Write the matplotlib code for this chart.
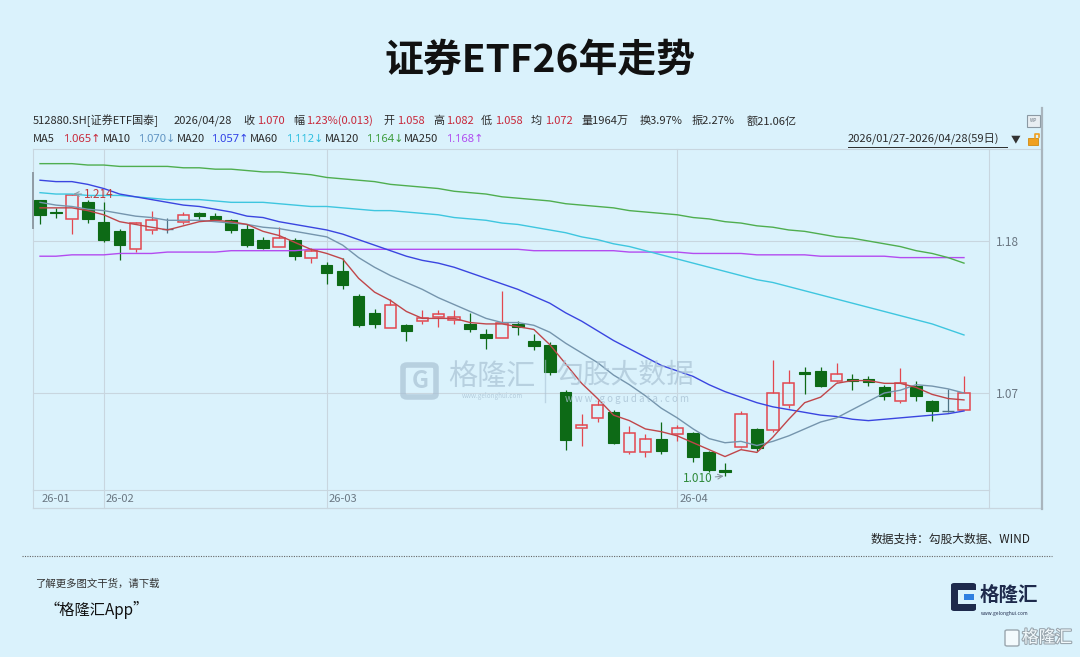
import numpy as np
import matplotlib
matplotlib.use('Agg')
import matplotlib.pyplot as plt
import matplotlib.transforms as mtransforms
import matplotlib.patheffects as pe
from matplotlib.lines import Line2D
from matplotlib.patches import Rectangle, FancyBboxPatch

plt.rcParams['font.family'] = ['Noto Sans CJK SC', 'DejaVu Sans']

# 512880.SH daily candles, 2026/01/27 - 2026/04/28 (59 days)
opens = [1.210, 1.201, 1.196, 1.208, 1.194, 1.187, 1.174, 1.188, 1.189, 1.194,
         1.200, 1.198, 1.195, 1.189, 1.181, 1.176, 1.181, 1.168, 1.163, 1.158,
         1.140, 1.128, 1.117, 1.119, 1.122, 1.125, 1.123, 1.120, 1.113, 1.110,
         1.120, 1.108, 1.105, 1.071, 1.045, 1.052, 1.056, 1.027, 1.027, 1.037,
         1.040, 1.041, 1.027, 1.014, 1.031, 1.044, 1.043, 1.061, 1.085, 1.086,
         1.079, 1.080, 1.080, 1.074, 1.064, 1.075, 1.064, 1.057, 1.058]
highs = [1.210, 1.204, 1.214, 1.210, 1.208, 1.189, 1.194, 1.202, 1.197, 1.201,
         1.201, 1.200, 1.196, 1.192, 1.183, 1.190, 1.182, 1.175, 1.165, 1.168,
         1.142, 1.131, 1.138, 1.120, 1.130, 1.130, 1.130, 1.128, 1.116, 1.144,
         1.122, 1.113, 1.107, 1.072, 1.055, 1.065, 1.058, 1.046, 1.040, 1.049,
         1.047, 1.042, 1.028, 1.019, 1.057, 1.045, 1.094, 1.087, 1.089, 1.089,
         1.092, 1.084, 1.082, 1.076, 1.088, 1.079, 1.065, 1.073, 1.082]
lows = [1.192, 1.197, 1.185, 1.193, 1.179, 1.166, 1.172, 1.185, 1.186, 1.192,
        1.196, 1.195, 1.186, 1.176, 1.174, 1.176, 1.166, 1.164, 1.149, 1.145,
        1.118, 1.117, 1.117, 1.108, 1.120, 1.118, 1.120, 1.114, 1.102, 1.110,
        1.112, 1.101, 1.083, 1.029, 1.032, 1.049, 1.033, 1.026, 1.024, 1.026,
        1.035, 1.020, 1.013, 1.010, 1.030, 1.028, 1.042, 1.059, 1.069, 1.074,
        1.078, 1.072, 1.075, 1.065, 1.063, 1.064, 1.050, 1.056, 1.058]
closes = [1.199, 1.200, 1.213, 1.196, 1.181, 1.177, 1.193, 1.195, 1.189, 1.199,
          1.198, 1.196, 1.188, 1.177, 1.175, 1.182, 1.169, 1.173, 1.157, 1.148,
          1.119, 1.120, 1.134, 1.115, 1.124, 1.127, 1.125, 1.116, 1.110, 1.121,
          1.118, 1.104, 1.085, 1.036, 1.047, 1.061, 1.034, 1.041, 1.037, 1.028,
          1.045, 1.024, 1.014, 1.013, 1.055, 1.030, 1.070, 1.077, 1.084, 1.075,
          1.084, 1.079, 1.078, 1.068, 1.077, 1.068, 1.057, 1.057, 1.070]

ma5 = [1.204, 1.204, 1.204, 1.202, 1.199, 1.194, 1.192, 1.190, 1.188, 1.191,
       1.194, 1.195, 1.194, 1.192, 1.187, 1.184, 1.179, 1.174, 1.171, 1.167,
       1.153, 1.143, 1.137, 1.129, 1.124, 1.124, 1.124, 1.121, 1.120, 1.120,
       1.118, 1.116, 1.105, 1.091, 1.077, 1.066, 1.054, 1.050, 1.044, 1.042,
       1.039, 1.034, 1.029, 1.024, 1.029, 1.027, 1.038, 1.051, 1.063, 1.067,
       1.077, 1.079, 1.079, 1.077, 1.077, 1.074, 1.069, 1.066, 1.065]
ma10 = [1.208, 1.206, 1.205, 1.203, 1.202, 1.200, 1.198, 1.197, 1.195, 1.195,
        1.195, 1.194, 1.193, 1.192, 1.190, 1.189, 1.187, 1.185, 1.183, 1.177,
        1.168, 1.161, 1.155, 1.150, 1.145, 1.139, 1.134, 1.129, 1.124, 1.121,
        1.121, 1.119, 1.114, 1.106, 1.099, 1.092, 1.083, 1.076, 1.068, 1.059,
        1.052, 1.044, 1.037, 1.034, 1.035, 1.032, 1.035, 1.039, 1.044, 1.049,
        1.052, 1.058, 1.064, 1.070, 1.072, 1.076, 1.075, 1.073, 1.070]
ma20 = [1.224, 1.223, 1.223, 1.221, 1.218, 1.214, 1.212, 1.210, 1.208, 1.206,
        1.205, 1.203, 1.201, 1.198, 1.197, 1.194, 1.192, 1.190, 1.188, 1.185,
        1.181, 1.177, 1.173, 1.169, 1.166, 1.164, 1.161, 1.157, 1.153, 1.149,
        1.145, 1.140, 1.135, 1.128, 1.122, 1.115, 1.108, 1.102, 1.096, 1.090,
        1.086, 1.082, 1.076, 1.071, 1.067, 1.063, 1.060, 1.058, 1.056, 1.054,
        1.053, 1.051, 1.050, 1.051, 1.052, 1.053, 1.054, 1.055, 1.057]
ma60 = [1.215, 1.214, 1.214, 1.213, 1.213, 1.213, 1.212, 1.211, 1.210, 1.210,
        1.210, 1.209, 1.208, 1.208, 1.208, 1.207, 1.206, 1.205, 1.205, 1.204,
        1.203, 1.202, 1.202, 1.201, 1.200, 1.199, 1.197, 1.196, 1.195, 1.193,
        1.192, 1.190, 1.188, 1.186, 1.183, 1.181, 1.178, 1.176, 1.173, 1.170,
        1.167, 1.164, 1.161, 1.158, 1.155, 1.152, 1.150, 1.147, 1.144, 1.141,
        1.138, 1.135, 1.132, 1.129, 1.126, 1.123, 1.120, 1.116, 1.112]
ma120 = [1.236, 1.236, 1.236, 1.235, 1.235, 1.234, 1.234, 1.234, 1.234, 1.233,
         1.233, 1.232, 1.232, 1.231, 1.230, 1.230, 1.229, 1.228, 1.226, 1.225,
         1.224, 1.223, 1.221, 1.220, 1.219, 1.218, 1.216, 1.215, 1.214, 1.212,
         1.211, 1.210, 1.209, 1.207, 1.206, 1.205, 1.204, 1.202, 1.201, 1.200,
         1.199, 1.197, 1.196, 1.194, 1.193, 1.191, 1.190, 1.188, 1.187, 1.185,
         1.183, 1.182, 1.180, 1.178, 1.176, 1.173, 1.171, 1.168, 1.164]
ma250 = [1.169, 1.169, 1.170, 1.170, 1.170, 1.171, 1.171, 1.171, 1.172, 1.172,
         1.172, 1.172, 1.173, 1.173, 1.173, 1.173, 1.173, 1.174, 1.174, 1.174,
         1.174, 1.174, 1.174, 1.174, 1.174, 1.174, 1.174, 1.174, 1.174, 1.174,
         1.174, 1.173, 1.173, 1.173, 1.173, 1.173, 1.173, 1.172, 1.172, 1.172,
         1.172, 1.171, 1.171, 1.171, 1.171, 1.170, 1.170, 1.170, 1.170, 1.169,
         1.169, 1.169, 1.169, 1.169, 1.168, 1.168, 1.168, 1.168, 1.168]

month_labels = ['26-01', '26-02', '26-03', '26-04']
month_start = [0, 4, 18, 40]
price_ticks = [1.18, 1.07]
high_mark = (2, 1.214)
low_mark = (43, 1.010)

# header texts
quote_labels = ['收', '幅', '开', '高', '低', '均']
quote_values = ['1.070', '1.23%(0.013)', '1.058', '1.082', '1.058', '1.072']
quote_extra = ['量1964万', '换3.97%', '振2.27%', '额21.06亿']
ma_names = ['MA5', 'MA10', 'MA20', 'MA60', 'MA120', 'MA250']
ma_texts = ['1.065↑', '1.070↓', '1.057↑', '1.112↓', '1.164↓', '1.168↑']

W, H = 1080, 657
BG = '#daf2fc'
GRID = '#c8d6df'
UP = '#e2474f'
DOWN = '#0d6a16'
FLAT = '#4d7284'
MA_COLORS = ['#c0464a', '#7595ad', '#3a45e0', '#3ec6df', '#4fae4f', '#b34cf0']
MA_TEXT_COLORS = ['#c8283a', '#5f93c2', '#2f3fe6', '#2fbfe0', '#3c9c3c', '#b04cf0']
RED_TXT = '#c8283a'
DARK = '#2b2b2b'

fig = plt.figure(figsize=(W / 100, H / 100), dpi=100, facecolor=BG)


def fx(px):
    return px / W


def fy(py):
    return 1 - py / H


def ftext(px, py, s, **kw):
    kw.setdefault('va', 'center')
    kw.setdefault('ha', 'left')
    return fig.text(fx(px), fy(py), s, **kw)


def fline(xs, ys, **kw):
    fig.add_artist(Line2D([fx(v) for v in xs], [fy(v) for v in ys],
                          transform=fig.transFigure, **kw))


# title
ftext(540, 60, '证券ETF26年走势', ha='center', fontsize=28, fontweight='bold', color='#111111')

# quote line
ftext(33, 121, '512880.SH[证券ETF国泰]', fontsize=8, color=DARK)
ftext(174, 121, '2026/04/28', fontsize=8, color=DARK)
lab_x = [243, 293, 383, 433, 481, 531]
val_x = [257, 306, 397, 446, 495, 545]
for lx, vx, lab, val in zip(lab_x, val_x, quote_labels, quote_values):
    ftext(lx, 121, lab, fontsize=8, color=DARK)
    ftext(vx, 121, val, fontsize=8, color=RED_TXT)
for ex, s in zip([581, 640, 692, 747], quote_extra):
    ftext(ex, 121, s, fontsize=8, color=DARK)

# MA legend line
name_x = [33, 103, 177, 250, 325, 404]
text_x = [63, 138, 211, 286, 366, 446]
for nx, tx, nm, tv, c in zip(name_x, text_x, ma_names, ma_texts, MA_TEXT_COLORS):
    ftext(nx, 139, nm, fontsize=8, color=DARK)
    ftext(tx, 139, tv, fontsize=8, color=c, family=['Noto Sans', 'DejaVu Sans'])

ftext(848, 139, '2026/01/27-2026/04/28(59日)', fontsize=8, color=DARK)
fline([848, 1007], [146.5, 146.5], color=DARK, lw=0.7)
ftext(1011, 139, '▼', fontsize=7, color='#333333')

# little icons top right
fig.add_artist(Rectangle((fx(1027), fy(127)), 13 / W, 12 / H, transform=fig.transFigure,
                         facecolor='#e8eef2', edgecolor='#8b99a3', lw=0.8))
ftext(1033.5, 120, 'WP', fontsize=3.5, ha='center', color='#6b7883')
fig.add_artist(Rectangle((fx(1028), fy(145)), 10 / W, 7 / H, transform=fig.transFigure,
                         facecolor='#f0a020', edgecolor='#d08a10', lw=0.6))
fline([1035, 1035, 1039, 1039], [138, 134, 134, 137], color='#f0a020', lw=1.2)

# main price axes
ax = fig.add_axes([fx(33), fy(490), fx(989) - fx(33), (490 - 149) / H])
ax.set_facecolor('none')
ax.set_xlim(-0.44, 59.57)
ax.set_ylim(0.9998, 1.2466)
for sp in ax.spines.values():
    sp.set_color(GRID)
    sp.set_linewidth(0.8)
ax.set_xticks([])
ax.yaxis.tick_right()
ax.set_yticks(price_ticks)
ax.set_yticklabels([f'{t:.2f}' for t in price_ticks])
ax.tick_params(axis='y', length=0, pad=5, labelsize=8.5, labelcolor='#6b7883')

for t in price_ticks:
    ax.axhline(t, color=GRID, lw=0.8, zorder=0)
strip = 18 / 341
for i in month_start[1:]:
    ax.axvline(i, ymin=-strip, ymax=1, color=GRID, lw=0.8, zorder=0, clip_on=False)

trans = mtransforms.blended_transform_factory(ax.transData, ax.transAxes)
for i, lab in zip(month_start, month_labels):
    ax.text(i + 0.12, -9.5 / 341, lab, transform=trans, ha='left', va='center',
            fontsize=8, color='#6b7883')

# frame pieces around the chart
fline([33, 1042], [508, 508], color=GRID, lw=0.9)
fline([33, 33], [490, 508], color=GRID, lw=0.8)
fline([989, 989], [490, 508], color=GRID, lw=0.8)
fline([989, 1042], [149, 149], color=GRID, lw=0.8)
fline([1042, 1042], [108, 509], color='#a9b5bd', lw=1.6)
fline([32.5, 32.5], [173, 228], color='#8f9ba4', lw=1.4)

# watermarks
wm = '#a9c2d4'
fig.add_artist(FancyBboxPatch((fx(403), fy(397)), 33 / W, 32 / H, transform=fig.transFigure,
                              boxstyle='round,pad=0,rounding_size=0.004',
                              facecolor='none', edgecolor=wm, lw=4, alpha=0.7))
ftext(420, 381, 'G', ha='center', fontsize=17, fontweight='bold', color=wm, alpha=0.7)
ftext(492, 377, '格隆汇', ha='center', fontsize=21, color=wm, alpha=0.7)
ftext(492, 396, 'www.gelonghui.com', ha='center', fontsize=4.5, color=wm, alpha=0.8)
fline([545, 545], [360, 402], color=wm, lw=1.0, alpha=0.6)
ftext(625, 375, '勾股大数据', ha='center', fontsize=20, color=wm, alpha=0.7)
ftext(627, 399, 'w w w . g o g u d a t a . c o m', ha='center', fontsize=7, color=wm, alpha=0.8)

# candles
x = np.arange(len(closes))
o = np.array(opens)
h = np.array(highs)
lo = np.array(lows)
c = np.array(closes)
up = c > o
dn = c < o
fl = c == o
bw = 0.72

ax.vlines(x[dn], lo[dn], h[dn], color=DOWN, lw=0.9, zorder=2)
ax.bar(x[dn], (o - c)[dn], bottom=c[dn], width=bw, color=DOWN, edgecolor=DOWN, lw=0.8, zorder=3)

ax.vlines(x[up], lo[up], o[up], color=UP, lw=0.9, zorder=2)
ax.vlines(x[up], c[up], h[up], color=UP, lw=0.9, zorder=2)
ax.bar(x[up], (c - o)[up], bottom=o[up], width=bw, facecolor='none', edgecolor=UP, lw=1.1, zorder=3)

ax.vlines(x[fl], lo[fl], h[fl], color=FLAT, lw=0.9, zorder=2)
ax.hlines(o[fl], x[fl] - bw / 2, x[fl] + bw / 2, color=FLAT, lw=1.0, zorder=3)

# moving averages
for ma, col in zip([ma250, ma120, ma60, ma20, ma10, ma5], MA_COLORS[::-1]):
    ax.plot(x, ma, color=col, lw=1.0, zorder=4)

# extreme markers
ax.annotate(f'{high_mark[1]:.3f}', xy=high_mark, xytext=(9, 0), textcoords='offset points',
            ha='left', va='center', fontsize=8.5, color='#c03a3c', zorder=6,
            arrowprops=dict(arrowstyle='->', color='#8d9aa4', lw=0.8, shrinkA=0, shrinkB=1))
ax.annotate(f'{low_mark[1]:.3f}', xy=low_mark, xytext=(-9, -2), textcoords='offset points',
            ha='right', va='center', fontsize=8.5, color='#2f8a3a', zorder=6,
            arrowprops=dict(arrowstyle='->', color='#8d9aa4', lw=0.8, shrinkA=0, shrinkB=1))

# footer
ftext(1030, 539, '数据支持：勾股大数据、WIND', ha='right', fontsize=8.5, color='#222222')
fline([22, 1052], [556, 556], color='#666666', lw=0.8, linestyle=(0, (1, 1.2)))
ftext(35, 584, '了解更多图文干货，请下载', fontsize=7.5, color='#333333')
ftext(45, 610, '“格隆汇App”', fontsize=11, color='#111111')

fig.add_artist(FancyBboxPatch((fx(951), fy(611)), 25 / W, 28 / H, transform=fig.transFigure,
                              boxstyle='round,pad=0,rounding_size=0.003',
                              facecolor='#1e2a4c', edgecolor='none'))
fig.add_artist(Rectangle((fx(958), fy(604)), 18 / W, 14 / H, transform=fig.transFigure,
                         facecolor=BG, edgecolor='none'))
fig.add_artist(Rectangle((fx(964), fy(600)), 10 / W, 6 / H, transform=fig.transFigure,
                         facecolor='#2f7fe0', edgecolor='none'))
ftext(980, 595, '格隆汇', ha='left', fontsize=14, fontweight='bold', color='#1e2a4c')
ftext(1005, 613, 'www.gelonghui.com', ha='center', fontsize=3.5, color='#1e2a4c')

t = ftext(1022, 638, '格隆汇', ha='left', fontsize=12, color='#f3fafd')
t.set_path_effects([pe.withStroke(linewidth=1.6, foreground='#9aa6ae')])
fig.add_artist(FancyBboxPatch((fx(1005), fy(646)), 14 / W, 16 / H, transform=fig.transFigure,
                              boxstyle='round,pad=0,rounding_size=0.002',
                              facecolor='#f3fafd', edgecolor='#9aa6ae', lw=1.0))

fig.savefig('out.png', dpi=100, facecolor=BG)
